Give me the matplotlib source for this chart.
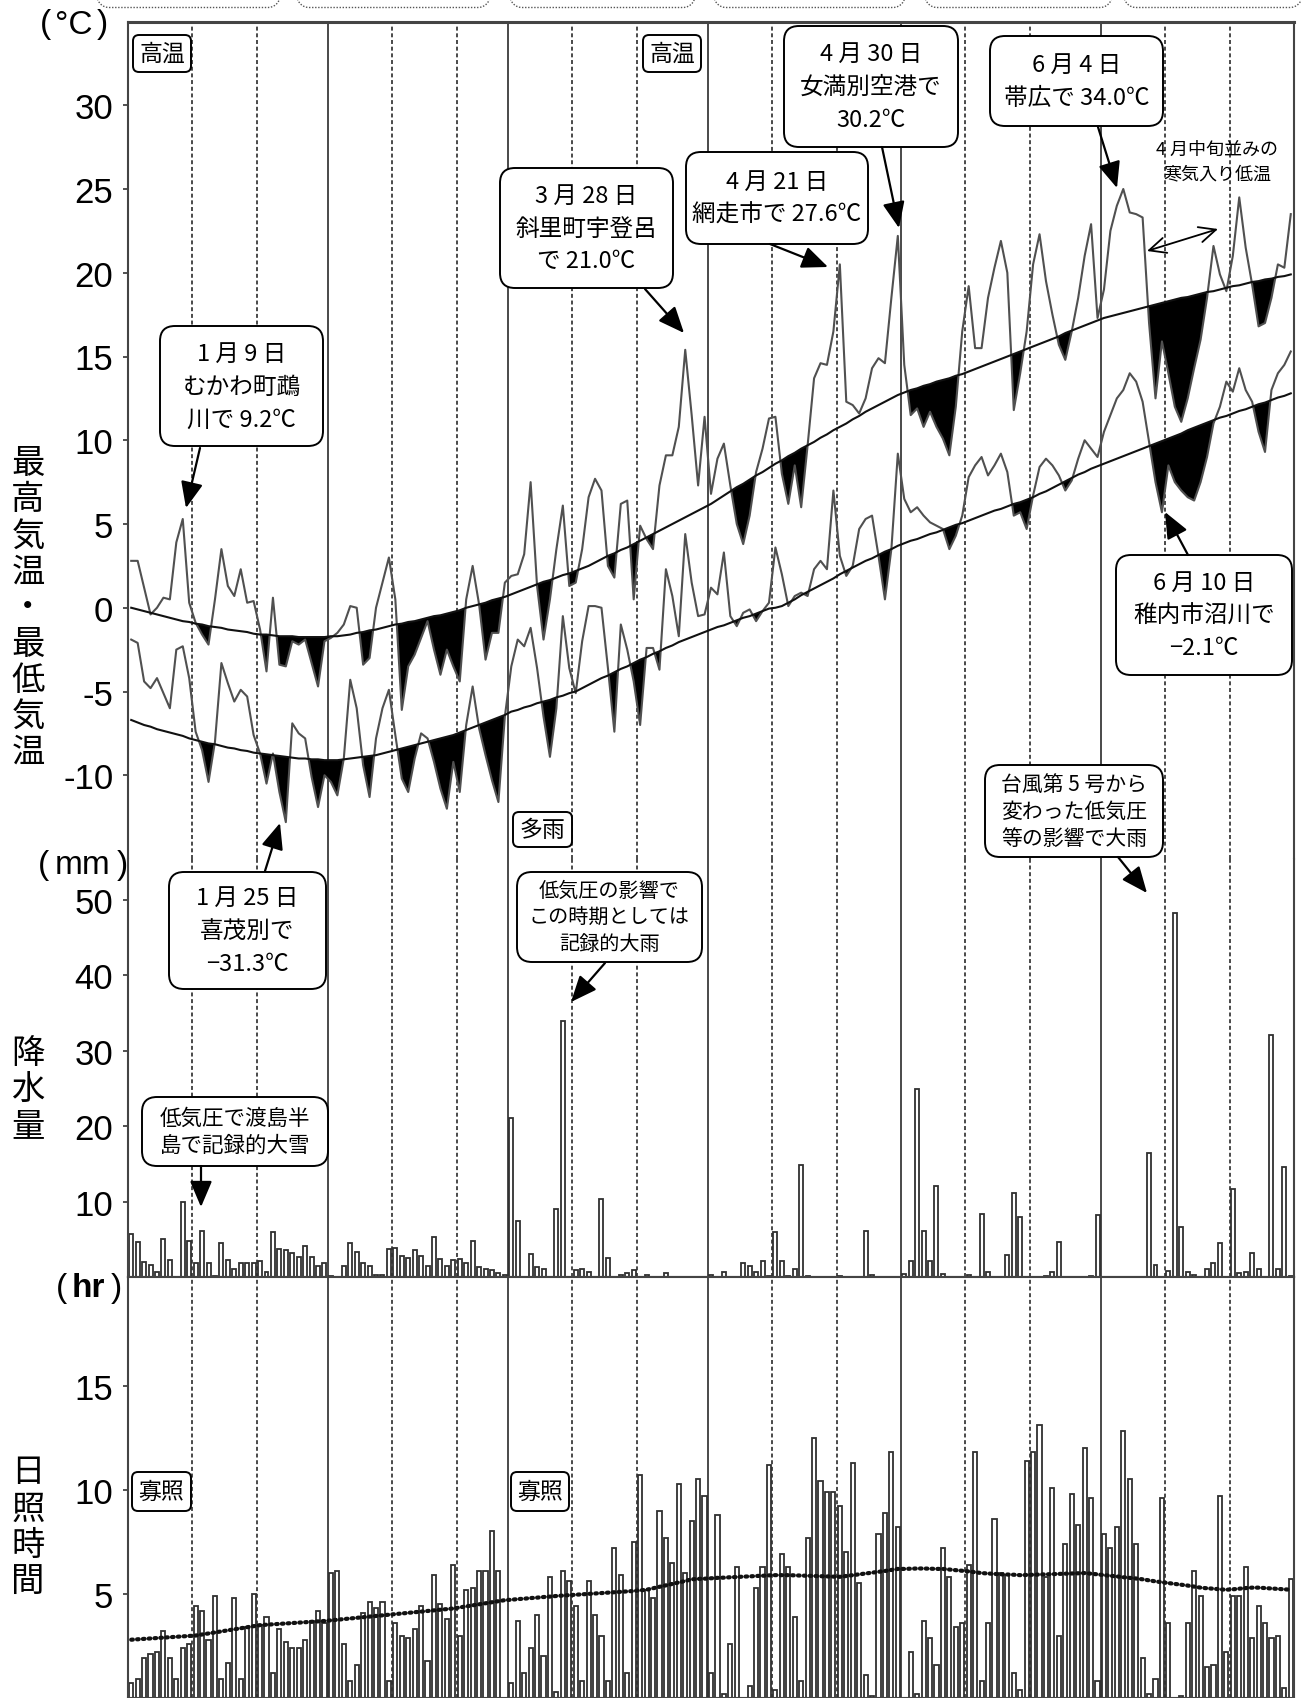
import matplotlib
matplotlib.use("Agg")
import matplotlib.pyplot as plt
import numpy as np
from matplotlib.patches import FancyBboxPatch, FancyArrowPatch

plt.rcParams["font.family"] = ["Noto Sans CJK JP", "DejaVu Sans"]
CJK = ["Noto Sans CJK JP", "DejaVu Sans"]
LATIN = "Liberation Sans"

# daily values, 1 Jan .. 30 Jun (181 days)
tmax = [
    2.8, 2.8, 1.2, -0.4, 0.0, 0.6, 0.5, 3.9, 5.3, 0.3,
    -0.9, -1.6, -2.2, 0.5, 3.5, 1.3, 0.7, 2.3, 0.3, 0.4,
    -1.3, -3.8, 0.6, -3.4, -3.5, -2.0, -2.2, -1.9, -3.3, -4.7,
    -2.0, -1.8, -1.5, -1.0, 0.1, 0.0, -3.4, -3.0, 0.0, 1.5,
    3.0, 0.5, -6.1, -3.5, -2.8, -1.8, -0.8, -2.5, -4.0, -2.5,
    -3.5, -4.4, 0.5, 2.5, 0.2, -3.1, -1.5, -1.5, 1.5, 1.9,
    2.0, 3.2, 7.5, 1.3, -1.9, 0.5, 3.5, 6.1, 1.3, 1.5,
    3.5, 6.6, 7.7, 7.0, 2.5, 1.8, 6.2, 6.4, 0.5, 4.9,
    4.1, 3.5, 7.3, 9.1, 9.1, 10.8, 15.4, 11.5, 7.3, 11.4,
    6.8, 8.9, 9.8, 7.3, 5.0, 3.8, 5.5, 8.1, 9.5, 11.3,
    11.4, 8.0, 6.2, 8.5, 6.0, 9.7, 13.7, 14.6, 14.5, 16.5,
    20.5, 12.3, 12.1, 11.6, 12.5, 14.3, 14.9, 14.6, 18.5, 22.2,
    14.5, 11.5, 11.9, 10.8, 11.7, 10.8, 10.1, 9.1, 12.0, 16.5,
    19.2, 15.5, 15.5, 18.5, 20.3, 21.9, 20.0, 11.8, 14.0, 16.5,
    20.5, 22.3, 19.5, 17.5, 15.7, 14.8, 16.5, 18.5, 21.0, 22.9,
    17.3, 19.0, 22.5, 24.0, 25.0, 23.6, 23.5, 23.3, 17.0, 12.5,
    15.9, 14.0, 12.0, 11.1, 12.5, 14.3, 16.0, 18.5, 21.6, 19.9,
    18.9, 21.0, 24.5, 21.5, 19.3, 16.8, 17.0, 18.5, 20.5, 20.3,
    23.5,
]
tmin = [
    -1.9, -2.1, -4.4, -4.8, -4.2, -5.1, -6.0, -2.5, -2.3, -4.2,
    -7.4, -8.5, -10.4, -8.0, -3.3, -4.5, -5.6, -4.9, -5.3, -7.6,
    -8.7, -10.5, -8.7, -11.0, -12.8, -6.9, -7.5, -7.8, -10.1, -11.9,
    -10.0, -10.4, -11.2, -9.0, -4.3, -6.0, -9.4, -11.3, -7.8, -6.0,
    -4.9, -7.6, -10.2, -11.0, -9.0, -7.5, -7.8, -9.2, -10.8, -12.0,
    -9.2, -11.0, -7.0, -4.7, -7.2, -8.8, -10.3, -11.6, -6.5, -3.5,
    -1.9, -2.3, -1.2, -3.6, -6.5, -8.9, -6.0, -0.5, -3.6, -5.1,
    -2.0, 0.1, 0.1, 0.0, -3.6, -7.4, -1.0, -2.5, -4.4, -7.0,
    -2.4, -2.4, -3.7, 2.3, 0.7, -1.7, 4.4, 1.5, -0.5, -0.4,
    1.2, 0.8, 3.3, -0.5, -1.1, -0.3, -0.1, -0.8, -0.2, 0.3,
    3.6, 2.0, 0.1, 0.7, 0.9, 0.7, 2.3, 2.8, 2.3, 7.0,
    3.1, 1.9, 2.5, 4.7, 5.3, 5.5, 3.1, 0.5, 3.5, 9.2,
    6.5, 5.7, 6.0, 5.5, 5.1, 4.9, 4.7, 3.5, 4.3, 5.5,
    7.8, 8.5, 9.0, 7.9, 8.5, 9.2, 8.1, 5.5, 5.7, 4.7,
    6.7, 8.4, 8.9, 8.5, 7.9, 7.0, 7.6, 8.9, 10.0, 9.5,
    9.0, 10.5, 11.5, 12.5, 13.0, 14.0, 13.5, 12.3, 9.9, 7.5,
    5.7, 8.5, 7.5, 7.0, 6.6, 6.4, 7.5, 9.0, 11.0, 12.0,
    13.5, 12.9, 14.3, 13.0, 12.3, 10.5, 9.3, 13.0, 14.0, 14.5,
    15.3,
]
tmax_normal = [
    0.0, -0.1, -0.2, -0.3, -0.4, -0.5, -0.6, -0.7, -0.8, -0.85,
    -0.95, -1.0, -1.1, -1.15, -1.2, -1.3, -1.35, -1.4, -1.45, -1.55,
    -1.6, -1.6, -1.65, -1.7, -1.7, -1.7, -1.75, -1.75, -1.75, -1.75,
    -1.75, -1.7, -1.7, -1.65, -1.6, -1.5, -1.45, -1.35, -1.3, -1.2,
    -1.1, -1.0, -0.95, -0.85, -0.8, -0.7, -0.6, -0.5, -0.45, -0.35,
    -0.25, -0.15, 0.0, 0.1, 0.2, 0.3, 0.45, 0.55, 0.65, 0.8,
    0.95, 1.1, 1.25, 1.4, 1.55, 1.65, 1.8, 1.95, 2.05, 2.2,
    2.35, 2.5, 2.7, 2.9, 3.1, 3.25, 3.45, 3.6, 3.8, 4.0,
    4.2, 4.4, 4.6, 4.8, 5.0, 5.2, 5.4, 5.6, 5.8, 6.0,
    6.2, 6.45, 6.7, 6.95, 7.2, 7.4, 7.65, 7.9, 8.1, 8.35,
    8.6, 8.8, 9.05, 9.25, 9.5, 9.7, 9.9, 10.15, 10.35, 10.6,
    10.8, 11.0, 11.25, 11.45, 11.7, 11.9, 12.1, 12.3, 12.5, 12.7,
    12.85, 13.0, 13.1, 13.25, 13.35, 13.5, 13.6, 13.7, 13.85, 13.95,
    14.1, 14.25, 14.4, 14.55, 14.7, 14.85, 15.0, 15.15, 15.3, 15.45,
    15.6, 15.75, 15.9, 16.05, 16.2, 16.4, 16.55, 16.7, 16.85, 17.0,
    17.15, 17.3, 17.4, 17.5, 17.6, 17.7, 17.8, 17.9, 18.0, 18.1,
    18.2, 18.3, 18.4, 18.5, 18.55, 18.65, 18.75, 18.85, 18.9, 19.0,
    19.1, 19.2, 19.25, 19.35, 19.45, 19.5, 19.6, 19.65, 19.75, 19.8,
    19.9,
]
tmin_normal = [
    -6.7, -6.85, -7.0, -7.1, -7.25, -7.35, -7.45, -7.55, -7.65, -7.8,
    -7.9, -8.0, -8.1, -8.15, -8.25, -8.35, -8.4, -8.5, -8.55, -8.65,
    -8.7, -8.75, -8.8, -8.85, -8.9, -8.95, -9.0, -9.0, -9.05, -9.05,
    -9.1, -9.1, -9.1, -9.05, -9.0, -8.95, -8.9, -8.85, -8.8, -8.7,
    -8.6, -8.5, -8.4, -8.3, -8.2, -8.1, -8.0, -7.9, -7.8, -7.7,
    -7.6, -7.45, -7.3, -7.15, -7.0, -6.85, -6.7, -6.55, -6.4, -6.2,
    -6.1, -5.95, -5.85, -5.7, -5.6, -5.5, -5.35, -5.25, -5.1, -5.0,
    -4.8, -4.6, -4.4, -4.2, -4.05, -3.85, -3.65, -3.5, -3.3, -3.1,
    -2.95, -2.75, -2.6, -2.4, -2.25, -2.05, -1.9, -1.75, -1.6, -1.45,
    -1.3, -1.15, -1.05, -0.9, -0.75, -0.6, -0.5, -0.35, -0.2, -0.05,
    0.0, 0.1, 0.3, 0.5, 0.75, 0.95, 1.15, 1.35, 1.55, 1.75,
    2.0, 2.2, 2.4, 2.6, 2.8, 2.95, 3.15, 3.35, 3.5, 3.7,
    3.85, 4.0, 4.1, 4.25, 4.4, 4.5, 4.65, 4.8, 4.95, 5.05,
    5.2, 5.35, 5.5, 5.65, 5.8, 5.9, 6.05, 6.2, 6.3, 6.45,
    6.6, 6.8, 6.95, 7.15, 7.35, 7.55, 7.75, 7.95, 8.1, 8.3,
    8.45, 8.6, 8.75, 8.9, 9.05, 9.2, 9.35, 9.5, 9.65, 9.8,
    9.95, 10.1, 10.25, 10.4, 10.6, 10.75, 10.9, 11.05, 11.2, 11.35,
    11.45, 11.6, 11.75, 11.85, 12.0, 12.15, 12.25, 12.4, 12.55, 12.65,
    12.8,
]
precip = [
    5.7, 4.7, 2.0, 1.6, 0.7, 5.0, 2.3, 0.0, 10.0, 4.8,
    1.9, 6.1, 1.8, 0.1, 4.5, 2.3, 1.1, 1.9, 1.8, 1.8,
    2.1, 0.7, 5.9, 3.7, 3.6, 3.2, 2.7, 4.1, 2.7, 1.5,
    1.9, 0.1, 0.0, 1.5, 4.5, 3.3, 1.8, 1.5, 0.2, 0.2,
    3.7, 3.9, 2.8, 2.5, 3.6, 2.8, 1.5, 5.3, 2.4, 1.4,
    2.3, 2.4, 1.8, 4.8, 1.3, 1.0, 0.9, 0.5, 0.2, 21.1,
    7.4, 0.0, 3.1, 1.3, 1.1, 0.0, 9.0, 33.9, 0.0, 0.9,
    1.0, 0.7, 0.0, 10.3, 2.5, 0.0, 0.3, 0.5, 0.9, 0.0,
    0.2, 0.0, 0.0, 0.5, 0.0, 0.0, 0.0, 0.0, 0.0, 0.0,
    0.2, 0.0, 0.6, 0.0, 0.0, 1.9, 1.5, 0.6, 2.1, 0.1,
    6.0, 2.1, 0.1, 1.1, 14.9, 0.1, 0.0, 0.0, 0.0, 0.0,
    0.1, 0.0, 0.0, 0.0, 6.1, 0.3, 0.0, 0.0, 0.0, 0.0,
    0.4, 2.1, 24.9, 6.1, 2.1, 12.1, 0.4, 0.0, 0.0, 0.0,
    0.2, 0.0, 8.3, 0.6, 0.0, 0.0, 2.9, 11.1, 8.0, 0.0,
    0.0, 0.0, 0.1, 0.6, 4.7, 0.0, 0.0, 0.0, 0.0, 0.1,
    8.2, 0.0, 0.0, 0.0, 0.0, 0.0, 0.0, 0.0, 16.4, 1.6,
    0.0, 0.8, 48.3, 6.6, 0.6, 0.3, 0.0, 1.0, 1.9, 4.5,
    0.0, 11.7, 0.5, 0.6, 3.2, 1.0, 0.0, 32.1, 1.0, 14.6,
    0.1,
]
sunshine = [
    0.7, 0.9, 1.9, 2.1, 2.2, 3.2, 1.9, 0.9, 2.4, 2.6,
    4.4, 4.2, 2.8, 4.9, 0.9, 1.7, 4.8, 0.9, 3.4, 5.0,
    3.5, 3.9, 1.2, 3.3, 2.7, 2.4, 2.4, 2.8, 3.7, 4.2,
    3.6, 6.0, 6.1, 2.6, 0.8, 1.6, 4.1, 4.6, 4.3, 4.6,
    0.8, 3.6, 3.0, 2.9, 3.3, 4.4, 1.8, 5.9, 4.5, 3.8,
    6.4, 3.0, 5.2, 5.3, 6.1, 6.1, 8.0, 6.1, 0.0, 0.7,
    3.7, 1.2, 2.4, 4.0, 2.0, 5.8, 0.3, 6.1, 5.6, 4.4,
    0.8, 5.6, 4.0, 3.0, 0.8, 7.2, 5.9, 1.2, 7.5, 10.7,
    5.2, 4.8, 9.0, 7.7, 6.5, 10.3, 6.0, 8.5, 10.5, 9.7,
    1.2, 8.8, 0.2, 2.6, 6.3, 0.0, 0.6, 5.3, 6.3, 11.2,
    0.4, 6.9, 6.3, 3.9, 0.8, 7.7, 12.5, 10.4, 9.9, 9.9,
    9.2, 7.0, 11.3, 5.5, 1.1, 0.1, 7.9, 8.9, 11.8, 8.2,
    0.0, 2.2, 0.2, 3.7, 2.9, 1.6, 7.2, 5.8, 3.4, 3.6,
    6.4, 11.8, 0.8, 3.6, 8.6, 6.0, 5.9, 1.2, 0.4, 11.4,
    11.8, 13.1, 5.8, 10.1, 3.0, 7.4, 9.8, 8.3, 12.0, 9.6,
    0.8, 7.9, 7.2, 8.2, 12.8, 10.5, 7.4, 1.9, 0.2, 0.9,
    9.6, 3.6, 0.0, 0.1, 3.6, 6.1, 4.9, 1.5, 1.6, 9.7,
    2.2, 4.9, 4.9, 6.3, 2.9, 4.4, 3.6, 2.9, 3.0, 0.5,
    5.7,
]
sunshine_normal = [
    2.8, 2.82, 2.84, 2.86, 2.88, 2.9, 2.92, 2.94, 2.96, 2.98,
    3.0, 3.05, 3.1, 3.15, 3.2, 3.25, 3.3, 3.35, 3.4, 3.45,
    3.5, 3.52, 3.54, 3.56, 3.58, 3.6, 3.62, 3.64, 3.66, 3.68,
    3.7, 3.73, 3.76, 3.79, 3.82, 3.85, 3.88, 3.91, 3.94, 3.97,
    4.0, 4.03, 4.06, 4.09, 4.12, 4.15, 4.18, 4.21, 4.24, 4.27,
    4.3, 4.35, 4.4, 4.45, 4.5, 4.55, 4.6, 4.65, 4.7, 4.72,
    4.75, 4.77, 4.8, 4.82, 4.85, 4.87, 4.9, 4.92, 4.94, 4.96,
    4.98, 5.0, 5.02, 5.04, 5.06, 5.08, 5.1, 5.12, 5.14, 5.17,
    5.2, 5.27, 5.34, 5.41, 5.48, 5.55, 5.62, 5.7, 5.72, 5.73,
    5.75, 5.77, 5.78, 5.8, 5.81, 5.83, 5.84, 5.86, 5.87, 5.89,
    5.9, 5.9, 5.9, 5.89, 5.88, 5.87, 5.86, 5.85, 5.84, 5.83,
    5.82, 5.86, 5.9, 5.94, 5.98, 6.02, 6.06, 6.1, 6.15, 6.2,
    6.2, 6.21, 6.22, 6.22, 6.21, 6.2, 6.2, 6.17, 6.14, 6.11,
    6.08, 6.04, 6.0, 5.98, 5.96, 5.94, 5.93, 5.92, 5.9, 5.91,
    5.92, 5.93, 5.94, 5.95, 5.96, 5.97, 5.98, 5.99, 6.0, 5.97,
    5.94, 5.9, 5.87, 5.84, 5.8, 5.77, 5.74, 5.7, 5.65, 5.6,
    5.56, 5.52, 5.48, 5.44, 5.4, 5.35, 5.3, 5.27, 5.25, 5.22,
    5.2, 5.22, 5.25, 5.28, 5.3, 5.3, 5.28, 5.26, 5.24, 5.22,
    5.2,
]

month_starts = [31, 59, 90, 120, 151]                              # 1 Feb .. 1 Jun
dekad_starts = [10, 20, 41, 51, 69, 79, 100, 110, 130, 140, 161, 171]  # 11th, 21st
temp_ticks = [-10, -5, 0, 5, 10, 15, 20, 25, 30]
precip_ticks = [10, 20, 30, 40, 50]
sun_ticks = [5, 10, 15]

W, H = 1301, 1699
L, R = 128, 1294


def frame(top, bottom):
    return [L / W, 1 - bottom / H, (R - L) / W, (bottom - top) / H]


fig = plt.figure(figsize=(W / 100, H / 100), dpi=100)
ax_t = fig.add_axes(frame(22.5, 860))
ax_p = fig.add_axes(frame(860, 1278))
ax_s = fig.add_axes(frame(1278, H))

n = len(tmax)
x = np.arange(n) + 0.5


def style(ax, ticks):
    ax.set_xlim(0, n)
    ax.set_xticks([])
    for m in month_starts:
        ax.axvline(m, color="#3a3a3a", lw=1.3, zorder=1)
    for d in dekad_starts:
        ax.axvline(d, color="#3a3a3a", lw=1.3, ls=(0, (2.2, 1.5)), zorder=1)
    for s in ax.spines.values():
        s.set_color("#444")
        s.set_linewidth(1.5)
    ax.set_yticks(ticks, labels=[str(t) for t in ticks], fontsize=25, fontfamily=LATIN)
    ax.tick_params(axis="y", direction="out", length=3.6, width=1.2, pad=7,
                   colors="#333", labelcolor="black")


# temperature
tx, tn = np.array(tmax), np.array(tmin)
nx, nn = np.array(tmax_normal), np.array(tmin_normal)
style(ax_t, temp_ticks)
ax_t.set_ylim(-15, 35)
ax_t.spines["bottom"].set_visible(False)
ax_t.spines["top"].set_linewidth(2.2)
ax_t.fill_between(x, tx, nx, where=tx < nx, interpolate=True, color="black", lw=0, zorder=2)
ax_t.fill_between(x, tn, nn, where=tn < nn, interpolate=True, color="black", lw=0, zorder=2)
ax_t.plot(x, tx, color="#505050", lw=1.5, zorder=3)
ax_t.plot(x, tn, color="#505050", lw=1.5, zorder=3)
ax_t.plot(x, nx, color="#111", lw=1.5, zorder=4)
ax_t.plot(x, nn, color="#111", lw=1.5, zorder=4)

# precipitation
style(ax_p, precip_ticks)
ax_p.set_ylim(0, 55.4)
ax_p.spines["top"].set_visible(False)
ax_p.bar(x, precip, width=0.62, color="white", edgecolor="#303030", lw=1.3, zorder=2)

# sunshine
style(ax_s, sun_ticks)
ax_s.set_ylim(0, 20.22)
ax_s.bar(x, sunshine, width=0.64, color="white", edgecolor="#303030", lw=1.3, zorder=2)
ax_s.plot(x, sunshine_normal, color="#111", lw=3.0, ls=(0, (0.4, 1.0)),
          dash_capstyle="round", zorder=3)

# overlay in pixel coordinates for labels, boxes and arrows
ov = fig.add_axes([0, 0, 1, 1])
ov.set_xlim(0, W)
ov.set_ylim(H, 0)
ov.axis("off")
ov.patch.set_alpha(0)

# dotted braces along the top edge
for a, b in [(97, 280), (297, 490), (510, 695), (714, 905), (925, 1112), (1124, 1302)]:
    r, yb = 12, 8.5
    t = np.linspace(0, np.pi / 2, 14)
    xs = np.concatenate([a + r - r * np.cos(t), [b - r], b - r + r * np.sin(t)])
    ys = np.concatenate([yb - r + r * np.sin(t), [yb], yb - r + r * np.cos(t)])
    ov.plot(xs, ys, color="#555", lw=1.0, ls=(0, (1, 1.2)))

# unit labels, parentheses set slightly apart as in the original
for x_open, x_mid, x_close, y, inner, weight in [(46, 74, 102, 25, "°C", "normal"),
                                                 (44, 83, 122, 866, "mm", "normal"),
                                                 (62, 88, 116, 1289, "hr", "bold")]:
    ov.text(x_open, y, "(", fontsize=24, fontfamily=LATIN, ha="center", va="center")
    ov.text(x_mid, y, inner, fontsize=24, fontfamily=LATIN, ha="center", va="center",
            fontweight=weight)
    ov.text(x_close, y, ")", fontsize=24, fontfamily=LATIN, ha="center", va="center")

for label, cy in [("最高気温・最低気温", 608), ("降水量", 1090), ("日照時間", 1527)]:
    ov.text(28, cy, "\n".join(label), fontsize=24, family=CJK, ha="center",
            va="center", linespacing=1.04)


def box(x0, y0, x1, y1, text, size, r=15, ls=1.55):
    ov.add_patch(FancyBboxPatch((x0 + r, y0 + r), x1 - x0 - 2 * r, y1 - y0 - 2 * r,
                                boxstyle=f"round,pad={r},rounding_size={r}",
                                fc="white", ec="black", lw=1.4, zorder=5))
    ov.text((x0 + x1) / 2, (y0 + y1) / 2, text, fontsize=size, family=CJK,
            ha="center", va="center", linespacing=ls, zorder=6)


def arrow(p0, p1):
    ov.add_patch(FancyArrowPatch(p0, p1, arrowstyle="-|>,head_length=0.8,head_width=0.34",
                                 mutation_scale=20, lw=1.6, color="black",
                                 shrinkA=0, shrinkB=0, zorder=6))


for x0, y0, x1, y1, s in [(133, 36, 191, 73, "高温"), (643, 36, 701, 73, "高温"),
                          (513, 813, 572, 848, "多雨"),
                          (132, 1473, 191, 1512, "寡照"), (511, 1473, 569, 1512, "寡照")]:
    box(x0, y0, x1, y1, s, 16.5, r=6, ls=1.0)

box(160, 327, 323, 447, "1 月 9 日\nむかわ町鵡\n川で 9.2℃", 17)
box(169, 873, 326, 990, "1 月 25 日\n喜茂別で\n−31.3℃", 17)
box(500, 169, 673, 289, "3 月 28 日\n斜里町宇登呂\nで 21.0℃", 17)
box(686, 153, 868, 245, "4 月 21 日\n網走市で 27.6℃", 17)
box(784, 27, 958, 148, "4 月 30 日\n女満別空港で\n30.2℃", 17)
box(990, 37, 1163, 127, "6 月 4 日\n帯広で 34.0℃", 17)
box(1116, 556, 1292, 676, "6 月 10 日\n稚内市沼川で\n−2.1℃", 17)
box(985, 766, 1163, 858, "台風第 5 号から\n変わった低気圧\n等の影響で大雨", 15, ls=1.3)
box(517, 873, 702, 963, "低気圧の影響で\nこの時期としては\n記録的大雨", 14.5, ls=1.35)
box(142, 1098, 328, 1167, "低気圧で渡島半\n島で記録的大雪", 15.5, ls=1.3)

arrow((200, 449), (186, 509))
arrow((265, 872), (280, 824))
arrow((645, 290), (684, 334))
arrow((770, 245), (828, 268))
arrow((882, 148), (899, 229))
arrow((1098, 128), (1117, 189))
arrow((1188, 556), (1165, 513))
arrow((1118, 858), (1147, 894))
arrow((605, 964), (571, 1003))
arrow((201, 1167), (201, 1208))

ov.text(1217, 162, "4 月中旬並みの\n寒気入り低温", fontsize=13, family=CJK,
        ha="center", va="center", linespacing=1.45)
ov.add_patch(FancyArrowPatch((1147, 252), (1218, 230),
                             arrowstyle="<->,head_length=0.6,head_width=0.28",
                             mutation_scale=20, lw=1.3, color="black",
                             shrinkA=0, shrinkB=0))

fig.savefig("out.png", dpi=100)
